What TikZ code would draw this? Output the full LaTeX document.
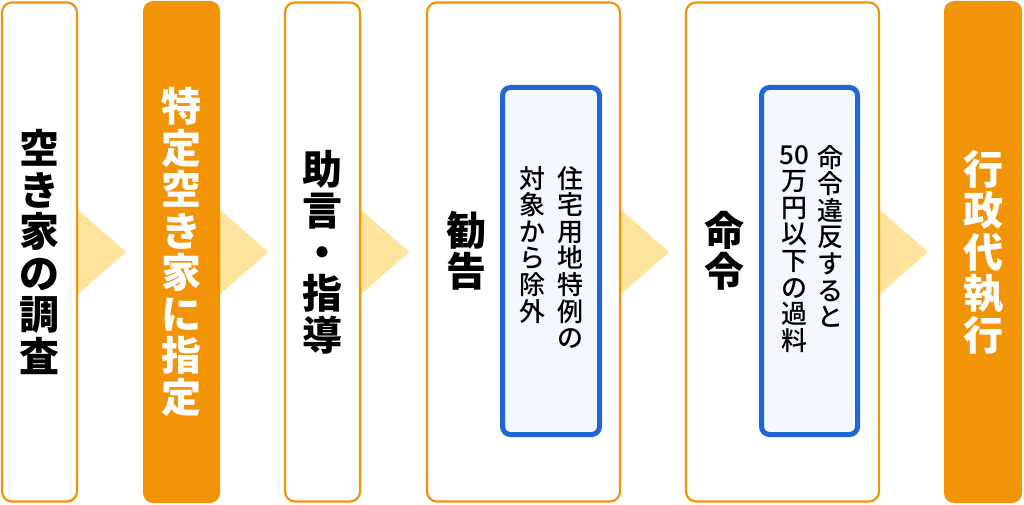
\documentclass[tikz,border=0pt]{standalone}
\usepackage{fontspec}
\newfontfamily\cjk{Noto Sans CJK JP}
\newfontfamily\cjkmed{Noto Sans CJK JP Medium}
\usetikzlibrary{calc,backgrounds}
\definecolor{orng}{HTML}{F29408}
\definecolor{chevc}{HTML}{FDE39C}
\definecolor{blu}{HTML}{2266D4}
\definecolor{blufill}{HTML}{F3F8FF}
\tikzset{
  outbox/.style={draw=orng, line width=2.2pt, fill=white, rounded corners=10pt, minimum height=499pt, inner sep=0pt},
  fillbox/.style={fill=orng, rounded corners=10pt, minimum height=502pt, inner sep=0pt},
  innerbox/.style={draw=blu, line width=5pt, fill=blufill, rounded corners=8pt, minimum height=347pt, inner sep=0pt},
  bigtxt/.style={font=\cjk\bfseries\fontsize{40}{41.5}\selectfont, align=center, inner sep=0pt},
  smalltxt/.style={font=\cjkmed\fontsize{26}{26.6}\selectfont, align=center, inner sep=0pt, anchor=north},
  chev/.style={fill=chevc}
}
\begin{document}
\begin{tikzpicture}[x=1pt,y=-1pt]
\useasboundingbox (0,0) rectangle (1024,505);
\node[outbox, minimum width=75pt, bigtxt] (b1) at (39.5,252) {空\\き\\家\\の\\調\\査};
\node[fillbox, minimum width=77pt, bigtxt, text=white] (b2) at (181.5,252) {特\\定\\空\\き\\家\\に\\指\\定};
\node[outbox, minimum width=75pt, bigtxt] (b3) at (322.5,252) {助\\言\\・\\指\\導};
\node[outbox, minimum width=193pt] (b4) at (523.5,252) {};
\node[outbox, minimum width=193pt] (b5) at (782.5,252) {};
\node[fillbox, minimum width=78pt, bigtxt, text=white] (b6) at (983,252) {行\\政\\代\\執\\行};
\node[innerbox, minimum width=97pt] (i4) at (551,261) {};
\node[innerbox, minimum width=96pt] (i5) at (809.5,261) {};
\node[bigtxt] (t4) at (466,251) {勧\\告};
\node[bigtxt] (t5) at (724,251) {命\\令};
\node[smalltxt] (s4a) at (570,166) {住\\宅\\用\\地\\特\\例\\の};
\node[smalltxt] (s4b) at (532,166) {対\\象\\か\\ら\\除\\外};
\node[smalltxt] (s5a) at (830.5,145) {命\\令\\違\\反\\す\\る\\と};
\node[smalltxt] (s5b) at (794,145) {50\\万\\円\\以\\下\\の\\過\\料};
\begin{scope}[on background layer]
\foreach \a/\b in {b1/b2,b2/b3,b3/b4,b4/b5,b5/b6}{
  \fill[chev] ($(\a.east)+(0,-42)$) -- ($(\a.east)+(48,0)$) -- ($(\a.east)+(0,42)$) -- cycle;
}
\end{scope}
\end{tikzpicture}
\end{document}
